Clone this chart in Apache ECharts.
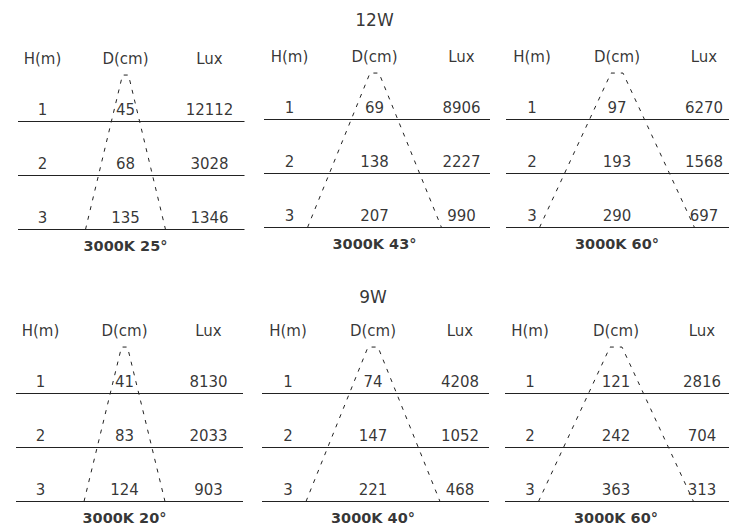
<!DOCTYPE html>
<html>
<head>
<meta charset="utf-8">
<script src="https://cdn.jsdelivr.net/npm/echarts@6/dist/echarts.min.js"></script>
<style>
  html, body { margin: 0; padding: 0; background: #fff; }
  #chart { width: 729px; height: 529px; }
</style>
</head>
<body>
<div id="chart"></div>
<script>
// 数据
var groups = ['12W', '9W'];
var heights = [1, 2, 3];
var headers = ['H(m)', 'D(cm)', 'Lux'];
var beams12W = ['3000K 25°', '3000K 43°', '3000K 60°'];
var diam12W = [[45, 68, 135], [69, 138, 207], [97, 193, 290]];
var lux12W = [[12112, 3028, 1346], [8906, 2227, 990], [6270, 1568, 697]];
var beams9W = ['3000K 20°', '3000K 40°', '3000K 60°'];
var diam9W = [[41, 83, 124], [74, 147, 221], [121, 242, 363]];
var lux9W = [[8130, 2033, 903], [4208, 1052, 468], [2816, 704, 313]];
// 光束锥: 底部半宽 / 顶部半宽 (读图所得)
var coneBottom = [[40, 67, 77.5], [40.5, 67, 77.5]];
var coneTop = [[3, 4.5, 6], [3, 5, 6]];

// 版面
var boxes = [
  [{ left: 18, right: 244.5, mid: 125.5, h: -83, lux: 84, line: 121.5 },
   { left: 264, right: 490, mid: 374.5, h: -85, lux: 87, line: 119.5 },
   { left: 506, right: 729, mid: 617, h: -85, lux: 87, line: 119.5 }],
  [{ left: 16, right: 243, mid: 124.5, h: -84, lux: 84, line: 393.5 },
   { left: 262, right: 489, mid: 373, h: -85, lux: 87, line: 393.5 },
   { left: 505, right: 729, mid: 616, h: -86, lux: 86, line: 393.5 }]
];
var ROW = 54;
var TXT = '#000';
var FONT = 'DejaVu Sans';

var myChart = echarts.init(document.getElementById('chart'), null, { renderer: 'svg' });

var grid = [], xAxis = [], yAxis = [], series = [];
var allBeams = [beams12W, beams9W];
var allDiam = [diam12W, diam9W];
var allLux = [lux12W, lux9W];

function textSeries(idx, data, size, weight) {
  return {
    type: 'scatter',
    xAxisIndex: idx,
    yAxisIndex: idx,
    symbolSize: 0,
    clip: false,
    silent: true,
    data: data,
    label: {
      show: true,
      position: 'inside',
      formatter: function (p) { return p.data[2]; },
      color: TXT,
      fontFamily: FONT,
      fontSize: size,
      fontWeight: weight || 'normal'
    }
  };
}

for (var g = 0; g < 2; g++) {
  for (var p = 0; p < 3; p++) {
    var b = boxes[g][p];
    var idx = g * 3 + p;
    grid.push({ left: b.left, width: b.right - b.left, top: b.line - ROW, height: ROW * 3 });
    xAxis.push({ type: 'value', gridIndex: idx, min: b.left - b.mid, max: b.right - b.mid, show: false });
    yAxis.push({ type: 'value', gridIndex: idx, min: 0, max: 3, inverse: true, show: false });

    // 横线
    series.push({
      type: 'lines',
      coordinateSystem: 'cartesian2d',
      xAxisIndex: idx,
      yAxisIndex: idx,
      silent: true,
      lineStyle: { color: '#222', width: 1, opacity: 1 },
      data: heights.map(function (h) {
        return { coords: [[b.left - b.mid, h], [b.right - b.mid, h]] };
      })
    });

    // 光束锥
    var sb = coneBottom[g][p], st = coneTop[g][p];
    series.push({
      type: 'lines',
      coordinateSystem: 'cartesian2d',
      xAxisIndex: idx,
      yAxisIndex: idx,
      polyline: true,
      silent: true,
      lineStyle: { color: '#222', width: 1, type: [4, 6], opacity: 1 },
      data: [{ coords: [[-sb, 3], [-st, 0.14], [st, 0.14], [sb, 3], [-sb, 3]] }]
    });

    // 文字
    var txt = [
      [b.h, -0.16, headers[0]],
      [0, -0.16, headers[1]],
      [b.lux, -0.16, headers[2]]
    ];
    heights.forEach(function (h, i) {
      txt.push([b.h, h - 0.22, String(h)]);
      txt.push([0, h - 0.22, String(allDiam[g][p][i])]);
      txt.push([b.lux, h - 0.22, String(allLux[g][p][i])]);
    });
    series.push(textSeries(idx, txt, 15));
    series.push(textSeries(idx, [[0, 3.31, allBeams[g][p]]], 14.5, 'bold'));

    if (p === 1) {
      series.push(textSeries(idx, [[0, g === 0 ? -0.84 : -0.79, groups[g]]], 17));
    }
  }
}

myChart.setOption({
  animation: false,
  backgroundColor: '#ffffff',
  grid: grid,
  xAxis: xAxis,
  yAxis: yAxis,
  series: series
});
</script>
</body>
</html>
